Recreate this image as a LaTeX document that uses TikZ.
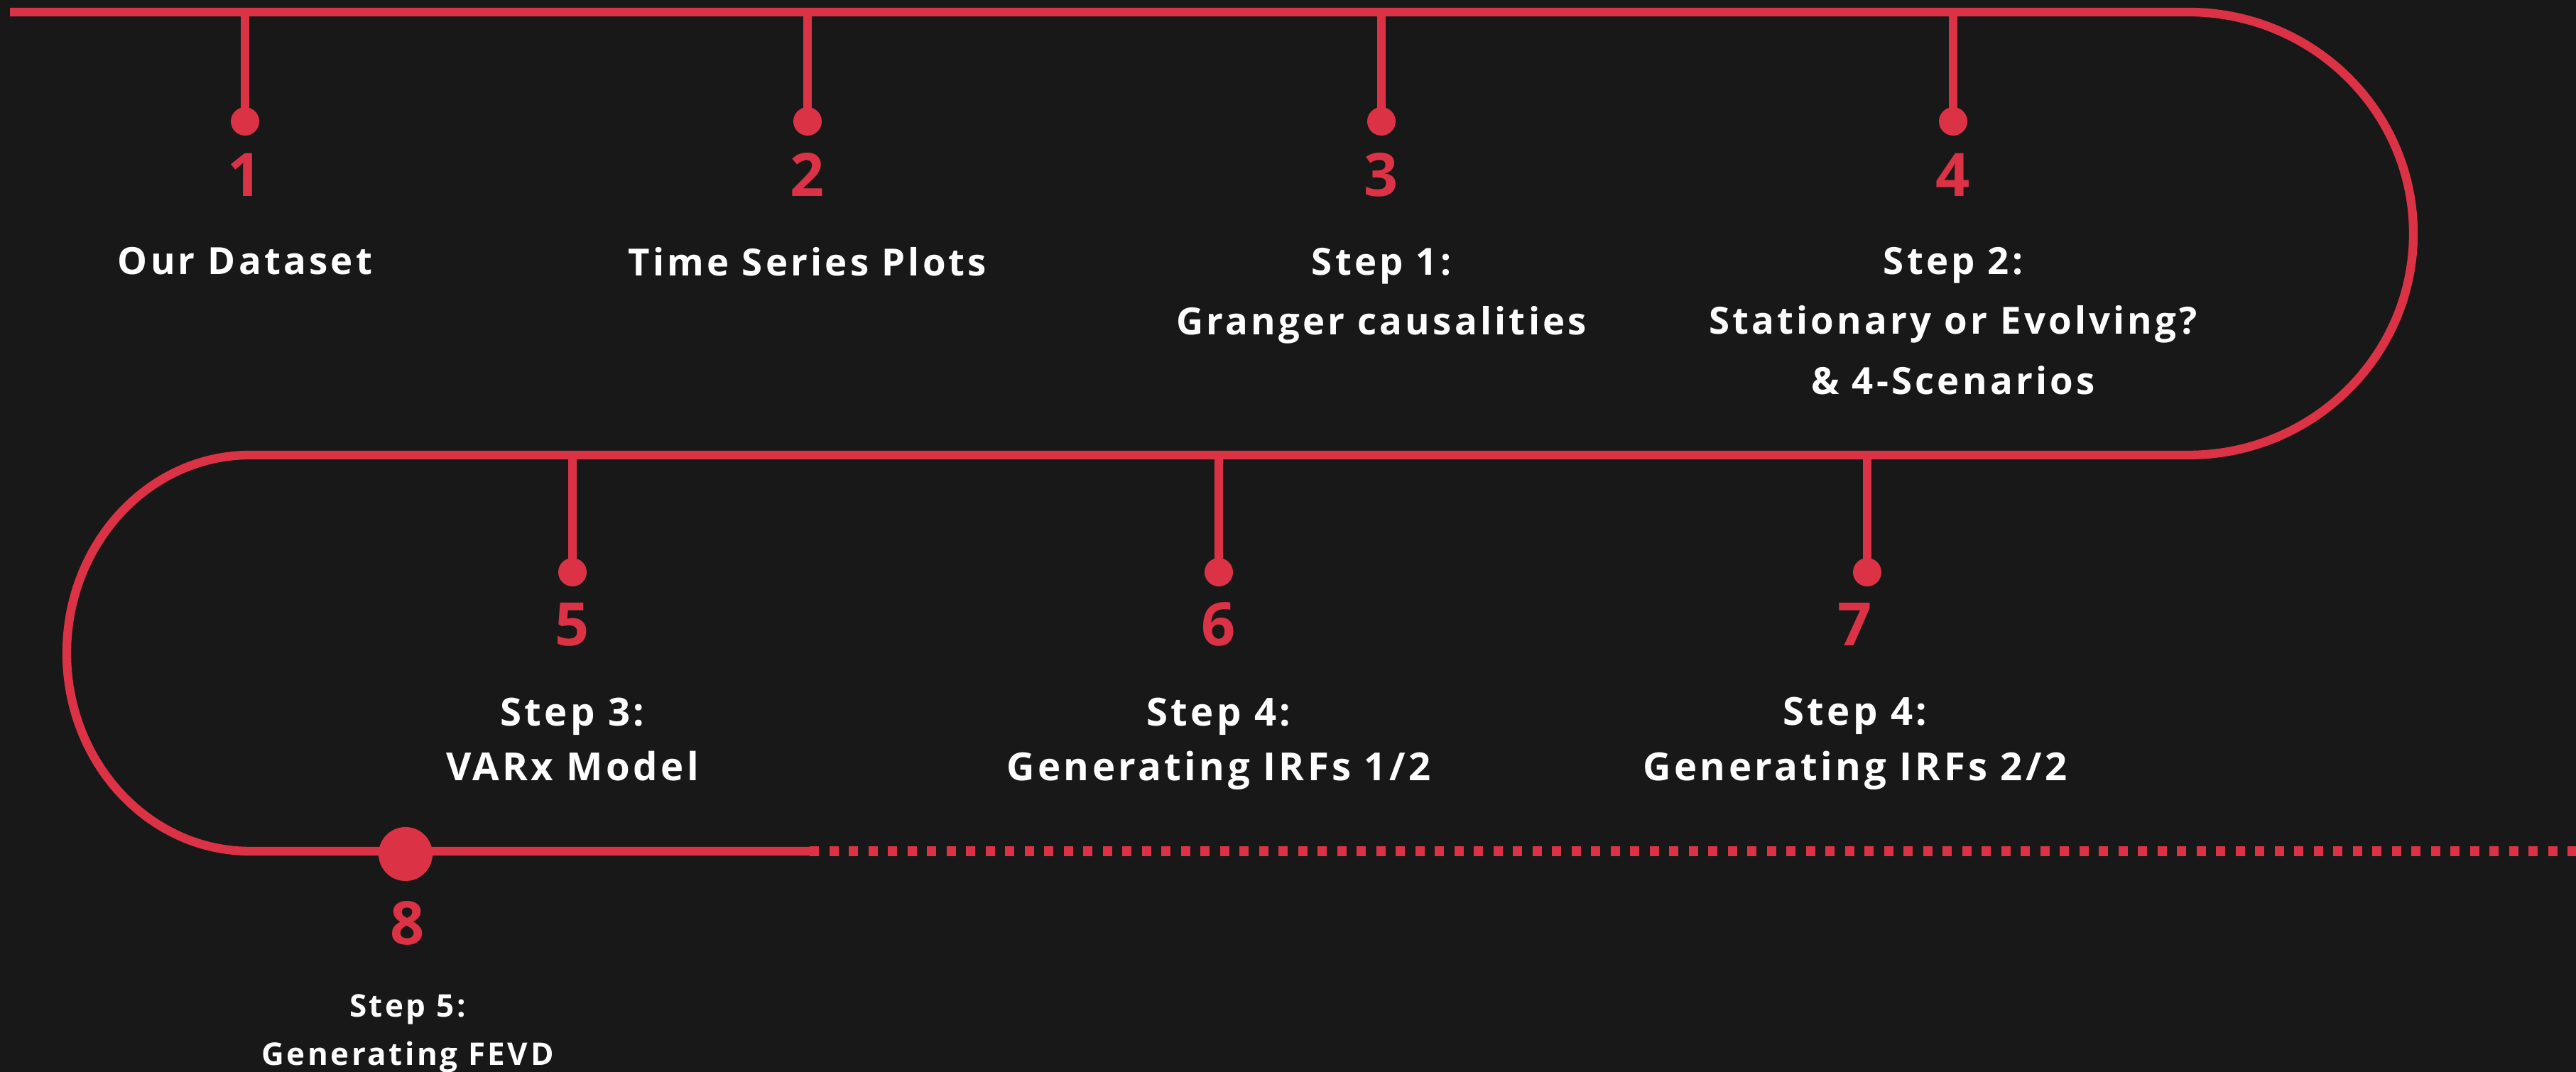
\documentclass[tikz,border=0pt]{standalone}
\usepackage{fontspec}
\setmainfont{Open Sans}
\newfontfamily\lblfont[LetterSpace=8]{Open Sans}
\usepackage{xcolor}
\usepackage{tikz}
\usetikzlibrary{positioning}

\definecolor{bgdark}{HTML}{181818}
\definecolor{tlred}{HTML}{DC3246}

\begin{document}
\begin{tikzpicture}[
    track/.style={draw=tlred, line width=3.5pt},
    dotted track/.style={draw=tlred, line width=4pt, dash pattern=on 0.13cm off 0.145cm},
    stem/.style={draw=tlred, line width=3.3pt},
    dot/.style={circle, fill=tlred, minimum size=0.4cm, inner sep=0pt},
    bigdot/.style={circle, fill=tlred, minimum size=0.76cm, inner sep=0pt},
    num/.style={text=tlred, font=\fontsize{24}{28}\selectfont\bfseries, anchor=base, inner sep=0pt},
    toplbl/.style={text=white, align=center, inner sep=0pt, font=\lblfont\fontsize{15}{24}\selectfont\bfseries},
    midlbl/.style={text=white, align=center, inner sep=0pt, font=\lblfont\fontsize{15.5}{22}\selectfont\bfseries},
    botlbl/.style={text=white, align=center, inner sep=0pt, font=\lblfont\fontsize{12.5}{19.5}\selectfont\bfseries}
]
% Background
\fill[bgdark] (0,0) rectangle (36.27,15.10);
\useasboundingbox (0,0) rectangle (36.27,15.10);

% Track
\coordinate (start) at (0.14,14.93);
\coordinate (tr) at (30.81,14.93);
\coordinate (ml) at (3.52,8.69);
\coordinate (bl) at (3.52,3.11);
\coordinate (be) at (11.40,3.11);
\coordinate (end) at (36.27,3.11);
\draw[track] (start) -- (tr)
    arc[start angle=90, end angle=-90, x radius=3.17, y radius=3.12] -- (ml)
    arc[start angle=90, end angle=270, x radius=2.58, y radius=2.79] -- (be);
\draw[dotted track] (be) -- (end);

% Upper row
\coordinate (s1) at (3.45,14.93);
\coordinate (s2) at (11.37,14.93);
\coordinate (s3) at (19.45,14.93);
\coordinate (s4) at (27.50,14.93);
\node[dot] (d1) at (3.45,13.39) {};
\node[dot] (d2) at (11.37,13.39) {};
\node[dot] (d3) at (19.45,13.39) {};
\node[dot] (d4) at (27.50,13.39) {};
\draw[stem] (s1) -- (d1.center);
\draw[stem] (s2) -- (d2.center);
\draw[stem] (s3) -- (d3.center);
\draw[stem] (s4) -- (d4.center);
\node[num] (n1) at (3.45,12.33) {1};
\node[num] (n2) at (11.37,12.33) {2};
\node[num] (n3) at (19.45,12.33) {3};
\node[num] (n4) at (27.50,12.33) {4};
\node[toplbl, below=0.70cm of n1] (l1) {Our Dataset};
\node[toplbl, below=0.70cm of n2] (l2) {Time Series Plots};
\node[toplbl, below=0.70cm of n3] (l3) {Step 1:\\Granger causalities};
\node[toplbl, below=0.70cm of n4] (l4) {Step 2:\\Stationary or Evolving?\\\& 4-Scenarios};

% Middle row
\coordinate (s5) at (8.06,8.69);
\coordinate (s6) at (17.16,8.69);
\coordinate (s7) at (26.29,8.69);
\node[dot] (d5) at (8.06,7.04) {};
\node[dot] (d6) at (17.16,7.04) {};
\node[dot] (d7) at (26.29,7.04) {};
\draw[stem] (s5) -- (d5.center);
\draw[stem] (s6) -- (d6.center);
\draw[stem] (s7) -- (d7.center);
\node[num] (n5) at (8.06,6.00) {5};
\node[num] (n6) at (17.16,6.00) {6};
\node[num] (n7) at (26.12,6.00) {7};
\node[midlbl, below=0.71cm of n5] (l5) {Step 3:\\VARx Model};
\node[midlbl, below=0.71cm of n6] (l6) {Step 4:\\Generating IRFs 1/2};
\node[midlbl, below=0.71cm of n7] (l7) {Step 4:\\Generating IRFs 2/2};

% Last step
\node[bigdot] (d8) at (5.71,3.07) {};
\node[num] (n8) at (5.74,1.79) {8};
\node[botlbl, below=0.67cm of n8] (l8) {Step 5:\\Generating FEVD};

\end{tikzpicture}
\end{document}
